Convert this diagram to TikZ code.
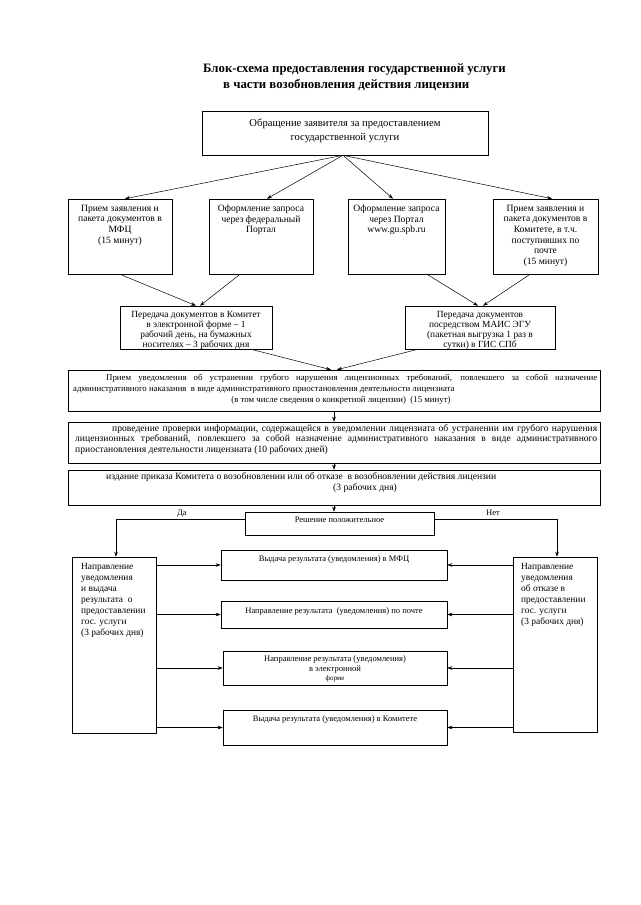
\documentclass[tikz,border=0pt]{standalone}
\usepackage{fontspec}
\setmainfont{Liberation Serif}
\usetikzlibrary{arrows.meta,fit}
\begin{document}
\begin{tikzpicture}[x=1pt,y=-1pt,
  box/.style={draw, line width=0.55pt, inner sep=0pt},
  tx/.style={font=\fontsize{9.6}{10.6}\selectfont, align=center, inner sep=0pt},
  tl/.style={font=\fontsize{9.4}{11}\selectfont, align=left, inner sep=0pt},
  ts/.style={font=\fontsize{8.5}{9.5}\selectfont, align=center, inner sep=0pt},
  ttl/.style={font=\fontsize{12.8}{14}\selectfont\bfseries, anchor=base west, inner sep=0pt},
  lb/.style={font=\fontsize{8.8}{9}\selectfont, anchor=base west, inner sep=0pt},
  lc/.style={font=\fontsize{9.6}{10}\selectfont, anchor=base west, inner sep=0pt},
  arr/.style={-{Stealth[length=5pt,width=3.6pt]}, line width=0.5pt},
  ln/.style={line width=0.5pt}]
\useasboundingbox[fill=white] (0,0) rectangle (640,905);

% title
\node[ttl] (t1) at (203,72) {Блок-схема предоставления государственной услуги};
\node[ttl] (t2) at (223,88) {в части возобновления действия лицензии};

% top box
\node[box, fit={(202,111)(488,155)}] (top) {};
\node[tx, anchor=north, font=\fontsize{10.6}{13.5}\selectfont] at ([yshift=-8pt]top.north) {Обращение заявителя за предоставлением\\государственной услуги};

% four entry boxes
\node[box, fit={(68,199)(172,274)}] (b1) {};
\node[box, fit={(209,199)(313,274)}] (b2) {};
\node[box, fit={(348,199)(445,274)}] (b3) {};
\node[box, fit={(493,199)(598,274)}] (b4) {};
\node[tx, anchor=north] at ([yshift=-6pt]b1.north) {Прием заявления и\\пакета документов в\\МФЦ\\(15 минут)};
\node[tx, anchor=north] at ([yshift=-6pt]b2.north) {Оформление запроса\\через федеральный\\Портал};
\node[tx, anchor=north] at ([yshift=-6pt]b3.north) {Оформление запроса\\через Портал\\www.gu.spb.ru};
\node[tx, anchor=north] at ([yshift=-6pt]b4.north) {Прием заявления и\\пакета документов в\\Комитете, в т.ч.\\поступивших по\\почте\\(15 минут)};

\draw[arr] ([xshift=-2pt]top.south) -- ([xshift=5pt]b1.north);
\draw[arr] ([xshift=-2pt]top.south) -- ([xshift=6pt]b2.north);
\draw[arr] ([xshift=-2pt]top.south) -- ([xshift=-3.5pt]b3.north);
\draw[arr] ([xshift=-2pt]top.south) -- ([xshift=6.5pt]b4.north);

% transfer boxes
\node[box, fit={(120,306)(272,349)}] (lt) {};
\node[box, fit={(405,306)(555,349)}] (rt) {};
\node[tx, anchor=north, font=\fontsize{9.4}{10}\selectfont] at ([yshift=-5pt]lt.north) {Передача документов в Комитет\\в электронной форме – 1\\рабочий день, на бумажных\\носителях – 3 рабочих дня};
\node[tx, anchor=north, font=\fontsize{9.4}{10}\selectfont] at ([yshift=-5pt]rt.north) {Передача документов\\посредством МАИС ЭГУ\\(пакетная выгрузка 1 раз в\\сутки) в ГИС СПб};

\draw[arr] (b1.south) -- (lt.north);
\draw[arr] ([xshift=-21pt]b2.south) -- ([xshift=4pt]lt.north);
\draw[arr] ([xshift=30.5pt]b3.south) -- ([xshift=-2pt]rt.north);
\draw[arr] ([xshift=-15.5pt]b4.south) -- ([xshift=3pt]rt.north);

% wide boxes
\node[box, fit={(68,370)(600,411)}] (w1) {};
\node[box, fit={(68,422)(600,463)}] (w2) {};
\node[box, fit={(68,470)(600,505)}] (w3) {};

\draw[arr] ([xshift=55pt]lt.south) -- ([xshift=-3pt]w1.north);
\draw[arr] ([xshift=-62pt]rt.south) -- ([xshift=3pt]w1.north);
\draw[arr] (w1.south) -- (w2.north);
\draw[arr] (w2.south) -- (w3.north);

\node[lb] at (106,380) {\makebox[491pt][s]{Прием уведомления об устранении грубого нарушения лицензионных требований, повлекшего за собой назначение}};
\node[lb] at (73,391) {административного наказания \ в виде административного приостановления деятельности лицензиата};
\node[lb, anchor=base] at (341,402) {(в том числе сведения о конкретной лицензии) \ (15 минут)};

\node[lc] at (112,431) {\makebox[485pt][s]{проведение проверки информации, содержащейся в уведомлении лицензиата об устранении им грубого нарушения}};
\node[lc] at (75,441.5) {\makebox[522pt][s]{лицензионных требований, повлекшего за собой назначение административного наказания в виде административного}};
\node[lc] at (75,452) {приостановления деятельности лицензиата (10 рабочих дней)};

\node[lc] at (106,479) {издание приказа Комитета о возобновлении или об отказе \ в возобновлении действия лицензии};
\node[lc] at (333,490) {(3 рабочих дня)};

% decision
\node[box, fit={(245,512)(434,535)}] (dec) {};
\node[tx, font=\fontsize{8.5}{9}\selectfont, anchor=base] at ([yshift=-11pt]dec.north) {Решение положительное};
\draw[arr] (w3.south) -- (w3.south |- dec.north);

% side boxes
\node[box, fit={(72,557)(156,733)}] (L) {};
\node[box, fit={(513,557)(597,732)}] (R) {};
\node[tl, anchor=north west] at (81,563) {Направление\\уведомления\\и выдача\\результата \ о\\предоставлении\\гос. услуги\\(3 рабочих дня)};
\node[tl, anchor=north west] at (521,563) {Направление\\уведомления\\об отказе в\\предоставлении\\гос. услуги\\(3 рабочих дня)};

\draw[arr] ([yshift=-8pt]dec.north west) -| ([xshift=2pt]L.north);
\draw[arr] ([yshift=-8pt]dec.north east) -| ([xshift=2pt]R.north);
\node[lb, font=\fontsize{8.5}{9}\selectfont] at (177,515) {Да};
\node[lb, font=\fontsize{8.5}{9}\selectfont] at (486,515) {Нет};

% result boxes
\node[box, fit={(221,550)(447,580)}] (A) {};
\node[box, fit={(221,601)(447,628)}] (B) {};
\node[box, fit={(223,651)(447,685)}] (C) {};
\node[box, fit={(223,710)(447,745)}] (D) {};
\node[ts, anchor=north] at ([yshift=-6pt]A.north) {Выдача результата (уведомления) в МФЦ};
\node[ts, anchor=north] at ([yshift=-7pt]B.north) {Направление результата \ (уведомления) по почте};
\node[ts, anchor=north, font=\fontsize{8.5}{9.2}\selectfont] at ([yshift=-5pt]C.north) {Направление результата (уведомления)\\в электронной\\{\fontsize{7}{7}\selectfont форме}};
\node[ts, anchor=north] at ([yshift=-6pt]D.north) {Выдача результата (уведомления) в Комитете};

\foreach \n in {A,B,C,D}{
  \draw[arr] (L.east |- \n.west) -- (\n.west);
  \draw[arr] (R.west |- \n.east) -- (\n.east);
}
\end{tikzpicture}
\end{document}
